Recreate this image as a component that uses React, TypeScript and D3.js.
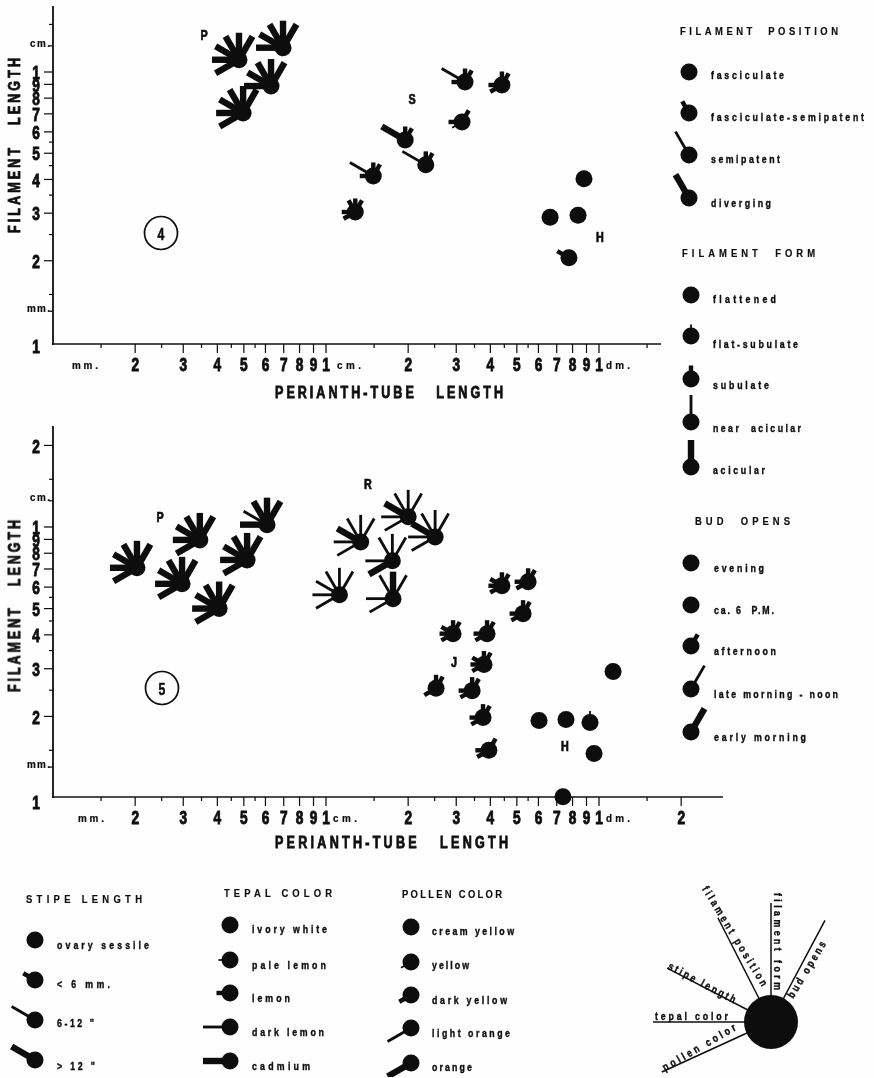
import React from "react";
import * as d3 from "d3";

const FONT = "'Liberation Sans', Arial, sans-serif";
const INK = "#0a0a0a";

// Ray order: pollen, tepal, stipe, filament position, filament form, bud opens
const rayAngles = [210, 180, 150, 120, 90, 60];
// level: 0 none, 1 tiny, 2 stub, 3 long thin, 4 long thick
const rayLength = [0, 11.5, 13.5, 27, 27];
const rayWidth = [0, 1.8, 4.4, 2.8, 6.4];

// Fig. 4 : perianth-tube length (mm), filament length (mm), ray levels
const fig4X = [4.8, 6.96, 6.29, 4.97, 32.3, 44.1, 31.5, 19.5, 23.2, 14.9, 12.8, 88.1, 66.2, 83.8, 77.6];
const fig4Y = [11.1, 12.3, 8.87, 7.05, 9.18, 8.95, 6.53, 5.6, 4.53, 4.12, 3.03, 4.02, 2.9, 2.95, 2.05];
const fig4Rays = [
  [4, 4, 4, 4, 4, 4], [0, 4, 4, 4, 4, 4], [0, 4, 4, 4, 4, 4], [4, 4, 4, 4, 4, 4],
  [0, 2, 3, 0, 2, 2], [2, 2, 0, 0, 2, 2], [1, 2, 0, 0, 0, 2], [0, 0, 4, 0, 2, 2],
  [0, 0, 3, 0, 2, 2], [0, 2, 3, 0, 2, 2], [2, 2, 0, 2, 2, 2],
  [0, 0, 0, 0, 0, 0], [0, 0, 0, 0, 0, 0], [0, 0, 0, 0, 0, 0], [0, 0, 2, 0, 0, 0],
];

// Fig. 5
const fig5X = [2.03, 3.45, 6.08, 2.97, 5.14, 4.06, 20, 25.1, 13.4, 17.5, 17.6, 11.2, 44.1, 55, 52.7, 29.2, 38.9, 37.9, 25.3, 34.3, 37.6, 39.5, 112.6, 60.3, 75.7, 92.7, 95.9, 73.8];
const fig5Y = [7.07, 8.96, 10.2, 6.17, 7.56, 5, 10.9, 9.19, 8.81, 7.5, 5.44, 5.62, 6.07, 6.28, 4.79, 4.04, 4.04, 3.11, 2.54, 2.49, 1.98, 1.5, 2.93, 1.93, 1.95, 1.9, 1.46, 1.01];
const fig5Rays = [
  [4, 4, 4, 4, 4, 4], [4, 4, 4, 4, 4, 4], [0, 4, 3, 4, 4, 4], [4, 4, 4, 4, 4, 4], [4, 4, 4, 4, 4, 4], [4, 4, 4, 4, 4, 4],
  [3, 3, 4, 3, 3, 3], [3, 3, 4, 3, 3, 3], [3, 3, 4, 3, 3, 3], [4, 3, 0, 3, 3, 3], [3, 3, 0, 3, 4, 3], [3, 3, 3, 3, 3, 3],
  [2, 2, 2, 0, 2, 2], [2, 2, 0, 0, 2, 2], [2, 2, 0, 0, 2, 2], [2, 2, 2, 0, 2, 2], [2, 2, 0, 0, 2, 2],
  [2, 2, 2, 0, 2, 2], [2, 0, 0, 0, 2, 2], [2, 2, 0, 0, 2, 2], [2, 2, 0, 0, 2, 2], [2, 2, 0, 0, 0, 2],
  [0, 0, 0, 0, 0, 0], [0, 0, 0, 0, 0, 0], [0, 0, 0, 0, 0, 0], [0, 0, 0, 0, 1, 0], [0, 0, 0, 0, 0, 0], [0, 0, 0, 0, 0, 0],
];

const xLabels: [number, string][] = [[2, "2"], [3, "3"], [4, "4"], [5, "5"], [6, "6"], [7, "7"], [8, "8"], [9, "9"], [10, "1"], [20, "2"], [30, "3"], [40, "4"], [50, "5"], [60, "6"], [70, "7"], [80, "8"], [90, "9"], [100, "1"]];
const xMinor = [1.5, 2.5, 3.5, 4.5, 5.5, 15, 25, 35, 45, 55, 150];
const yLabels: [number, string][] = [[2, "2"], [3, "3"], [4, "4"], [5, "5"], [6, "6"], [7, "7"], [8, "8"], [9, "9"], [10, "1"]];
const yMinor = [1.3, 1.5, 2.5, 3.5, 4.5, 5.5, 12.5, 15];

const filPosLabels = ["fasciculate", "fasciculate-semipatent", "semipatent", "diverging"];
const filPosLevels = [0, 2, 3, 4];
const filPosCy = [72, 113, 155, 198];
const filPosTy = [75, 117, 159, 203];
const filPosW = [73, 153, 69, 60];
const filFormLabels = ["flattened", "flat-subulate", "subulate", "near  acicular", "acicular"];
const filFormLevels = [0, 1, 2, 3, 4];
const filFormCy = [295, 336, 379, 422, 467];
const filFormTy = [299, 344, 385, 428, 470];
const filFormW = [63, 85, 56, 88, 52];
const budLabels = ["evening", "ca. 6  P.M.", "afternoon", "late morning - noon", "early morning"];
const budLevels = [0, 0, 2, 3, 4];
const budCy = [563, 605, 646, 689, 732];
const budTy = [568, 610, 651, 694, 737];
const budW = [50, 60, 62, 124, 92];
const stipeLabels = ["ovary sessile", "< 6 mm.", "6-12 \"", "> 12 \""];
const stipeLevels = [0, 2, 3, 4];
const stipeCy = [940, 980, 1020, 1060];
const stipeTy = [945, 984, 1023, 1066];
const stipeW = [92, 53, 37, 38];
const tepalLabels = ["ivory white", "pale lemon", "lemon", "dark lemon", "cadmium"];
const tepalLevels = [0, 1, 2, 3, 4];
const tepalCy = [925, 960, 993, 1027, 1061];
const tepalTy = [929, 965, 998, 1032, 1066];
const tepalW = [75, 74, 38, 72, 58];
const pollenLabels = ["cream yellow", "yellow", "dark yellow", "light orange", "orange"];
const pollenLevels = [0, 1, 2, 3, 4];
const pollenCy = [927, 962, 995, 1028, 1063];
const pollenTy = [931, 965, 1000, 1033, 1067];
const pollenW = [82, 37, 75, 78, 40];

const keyLabels = ["pollen color", "tepal color", "stipe length", "filament position", "filament form", "bud opens"];
const keyAngles = [204.6, 180, 152.6, 117, 90, 62];
const keyRayLength = [120, 118, 117, 117, 119, 115];

function Glyph({ x, y, rays, r = 8.5 }: { x: number; y: number; rays: number[]; r?: number }) {
  return (
    <g>
      {rays.map((lv, i) => {
        if (!lv) return null;
        const a = (rayAngles[i] * Math.PI) / 180;
        const L = rayLength[lv];
        return <line key={i} x1={x} y1={y} x2={x + L * Math.cos(a)} y2={y - L * Math.sin(a)} stroke={INK} strokeWidth={rayWidth[lv]} />;
      })}
      <circle cx={x} cy={y} r={r} fill={INK} />
    </g>
  );
}

// Condensed bold text: sx squeezes the glyphs, w stretches the spacing to an exact width.
function T({ x, y, s, size, sx = 0.72, w, anchor = "start", rotate = 0, heavy = 0 }: any) {
  return (
    <text
      transform={`translate(${x} ${y}) rotate(${rotate}) scale(${sx} 1)`}
      fontFamily={FONT}
      fontSize={size}
      fontWeight={700}
      textAnchor={anchor}
      dominantBaseline="central"
      fill={INK}
      stroke={heavy ? INK : "none"}
      strokeWidth={heavy}
      textLength={w ? w / sx : undefined}
      lengthAdjust="spacing"
      style={{ whiteSpace: "pre" }}
    >
      {s}
    </text>
  );
}

function Panel({ xs, ys, rays, y1, yPx, yTop, xEnd, axisY, labelY, titleY, titleW, xExtra, mmX, cmX, yExtra }: any) {
  const x = d3.scaleLog().domain([1, 100]).range([53, 599]);
  const y = d3.scaleLog().domain([1, 10]).range([y1, yPx]);
  return (
    <g>
      <line x1={53} y1={yTop} x2={53} y2={axisY + 1} stroke={INK} strokeWidth={1.8} />
      <line x1={52} y1={axisY} x2={xEnd} y2={axisY} stroke={INK} strokeWidth={1.6} />
      {xLabels.concat(xExtra).map(([v, s]: [number, string], i: number) => (
        <g key={i}>
          <line x1={x(v)} x2={x(v)} y1={axisY} y2={axisY + 9} stroke={INK} strokeWidth={1.2} />
          <T x={x(v)} y={labelY} s={s} size={18} sx={0.76} anchor="middle" heavy={0.9} />
        </g>
      ))}
      {xMinor.map((v) => (
        <line key={v} x1={x(v)} x2={x(v)} y1={axisY} y2={axisY + 4} stroke={INK} strokeWidth={1.2} />
      ))}
      <T x={mmX} y={labelY} s="mm." size={11} sx={0.9} w={26} heavy={0.2} />
      <T x={cmX} y={labelY} s="cm." size={11} sx={0.9} w={24} heavy={0.2} />
      <T x={606} y={labelY} s="dm." size={11} sx={0.9} w={24} heavy={0.2} />
      {yLabels.concat(yExtra).map(([v, s]: [number, string], i: number) => (
        <g key={i}>
          <line x1={44} x2={53} y1={y(v)} y2={y(v)} stroke={INK} strokeWidth={1.2} />
          <T x={36} y={y(v) + 1} s={s} size={18} sx={0.76} anchor="middle" heavy={0.9} />
        </g>
      ))}
      {yMinor.map((v) => (
        <line key={v} x1={49} x2={53} y1={y(v)} y2={y(v)} stroke={INK} strokeWidth={1.2} />
      ))}
      <T x={36} y={y1 + 5} s="1" size={18} sx={0.76} anchor="middle" heavy={0.9} />
      <T x={30} y={y(12.5) - 3} s="cm." size={11} sx={0.9} w={20} heavy={0.2} />
      <T x={27} y={y(1.3) - 3} s="mm." size={11} sx={0.9} w={23} heavy={0.2} />
      <T x={275} y={titleY} s="PERIANTH-TUBE   LENGTH" size={17} sx={0.74} w={titleW} heavy={0.8} />
      {xs.map((_: number, i: number) => (
        <Glyph key={i} x={x(xs[i])} y={y(ys[i])} rays={rays[i]} />
      ))}
    </g>
  );
}

function LegendCol({ labels, levels, cy, ty, widths, cx, tx, ray }: any) {
  return (
    <g>
      {labels.map((l: string, i: number) => {
        const rays = [0, 0, 0, 0, 0, 0];
        rays[ray] = levels[i];
        return (
          <g key={l}>
            <Glyph x={cx} y={cy[i]} rays={rays} />
            <T x={tx} y={ty[i]} s={l} size={11} sx={0.8} w={widths[i]} heavy={0.35} />
          </g>
        );
      })}
    </g>
  );
}

export default function App() {
  const kx = 771;
  const ky = 1022;
  return (
    <svg width={874} height={1078} style={{ position: "absolute", left: 0, top: 0, background: "#fefefe" }}>
      <defs>
        <filter id="scan" x="0" y="0" width="100%" height="100%">
          <feGaussianBlur stdDeviation="0.45" />
        </filter>
      </defs>
      <g filter="url(#scan)">
        <Panel
          xs={fig4X} ys={fig4Y} rays={fig4Rays} y1={342} yPx={72} yTop={6} xEnd={661} axisY={344} labelY={365} titleY={392} titleW={228}
          xExtra={[]} mmX={72} cmX={337} yExtra={[]}
        />
        <Panel
          xs={fig5X} ys={fig5Y} rays={fig5Rays} y1={798} yPx={527} yTop={426} xEnd={723} axisY={797} labelY={818} titleY={842} titleW={233}
          xExtra={[[200, "2"]]} mmX={78} cmX={333} yExtra={[[20, "2"]]}
        />
        {/* Circled figure numbers */}
        <circle cx={161} cy={233} r={16.5} fill="none" stroke={INK} strokeWidth={1.7} />
        <T x={161} y={234} s="4" size={16} sx={0.76} anchor="middle" heavy={0.5} />
        <circle cx={162} cy={688} r={16.5} fill="none" stroke={INK} strokeWidth={1.7} />
        <T x={162} y={689} s="5" size={16} sx={0.76} anchor="middle" heavy={0.5} />
        {/* Group letters */}
        <T x={204} y={35} s="P" size={15} sx={0.72} anchor="middle" heavy={0.7} />
        <T x={412} y={99} s="S" size={15} sx={0.72} anchor="middle" heavy={0.7} />
        <T x={600} y={237} s="H" size={15} sx={0.72} anchor="middle" heavy={0.7} />
        <T x={160} y={517} s="P" size={15} sx={0.72} anchor="middle" heavy={0.7} />
        <T x={368} y={484} s="R" size={15} sx={0.72} anchor="middle" heavy={0.7} />
        <T x={454} y={662} s="J" size={15} sx={0.72} anchor="middle" heavy={0.7} />
        <T x={565} y={746} s="H" size={15} sx={0.72} anchor="middle" heavy={0.7} />
        {/* Y axis titles */}
        <T x={14} y={233} s="FILAMENT   LENGTH" size={17} sx={0.74} w={175} rotate={-90} heavy={0.8} />
        <T x={14} y={692} s="FILAMENT   LENGTH" size={17} sx={0.74} w={172} rotate={-90} heavy={0.8} />

        {/* Right legends */}
        <T x={680} y={31} s="FILAMENT  POSITION" size={10.5} sx={0.9} w={158} heavy={0.15} />
        <LegendCol labels={filPosLabels} levels={filPosLevels} cy={filPosCy} ty={filPosTy} widths={filPosW} cx={689} tx={711} ray={3} />
        <T x={682} y={253} s="FILAMENT  FORM" size={10.5} sx={0.9} w={133} heavy={0.15} />
        <LegendCol labels={filFormLabels} levels={filFormLevels} cy={filFormCy} ty={filFormTy} widths={filFormW} cx={691} tx={713} ray={4} />
        <T x={695} y={521} s="BUD  OPENS" size={10.5} sx={0.9} w={95} heavy={0.15} />
        <LegendCol labels={budLabels} levels={budLevels} cy={budCy} ty={budTy} widths={budW} cx={691} tx={714} ray={5} />

        {/* Bottom legends */}
        <T x={26} y={899} s="STIPE LENGTH" size={10.5} sx={0.9} w={116} heavy={0.15} />
        <LegendCol labels={stipeLabels} levels={stipeLevels} cy={stipeCy} ty={stipeTy} widths={stipeW} cx={35} tx={57} ray={2} />
        <T x={224} y={893} s="TEPAL COLOR" size={10.5} sx={0.9} w={108} heavy={0.15} />
        <LegendCol labels={tepalLabels} levels={tepalLevels} cy={tepalCy} ty={tepalTy} widths={tepalW} cx={230} tx={252} ray={1} />
        <T x={402} y={894} s="POLLEN COLOR" size={10.5} sx={0.9} w={100} heavy={0.15} />
        <LegendCol labels={pollenLabels} levels={pollenLevels} cy={pollenCy} ty={pollenTy} widths={pollenW} cx={411} tx={432} ray={0} />

        {/* Key */}
        {keyLabels.map((_, i) => {
          const a = (keyAngles[i] * Math.PI) / 180;
          return <line key={i} x1={kx} y1={ky} x2={kx + keyRayLength[i] * Math.cos(a)} y2={ky - keyRayLength[i] * Math.sin(a)} stroke={INK} strokeWidth={1.5} />;
        })}
        <circle cx={kx} cy={ky} r={27} fill={INK} />
        <T x={655} y={1016} s={keyLabels[1]} size={11} sx={0.8} w={73} heavy={0.35} />
        <T x={663} y={1068} s={keyLabels[0]} size={11} sx={0.8} w={83} rotate={-30} heavy={0.35} />
        <T x={669} y={965} s={keyLabels[2]} size={11} sx={0.8} w={75} rotate={28} heavy={0.35} />
        <T x={705} y={887} s={keyLabels[3]} size={11} sx={0.8} w={115} rotate={58.5} heavy={0.35} />
        <T x={778} y={893} s={keyLabels[4]} size={11} sx={0.8} w={97} rotate={90} heavy={0.35} />
        <T x={790} y={997} s={keyLabels[5]} size={11} sx={0.8} w={64} rotate={-59} heavy={0.35} />
      </g>
    </svg>
  );
}
